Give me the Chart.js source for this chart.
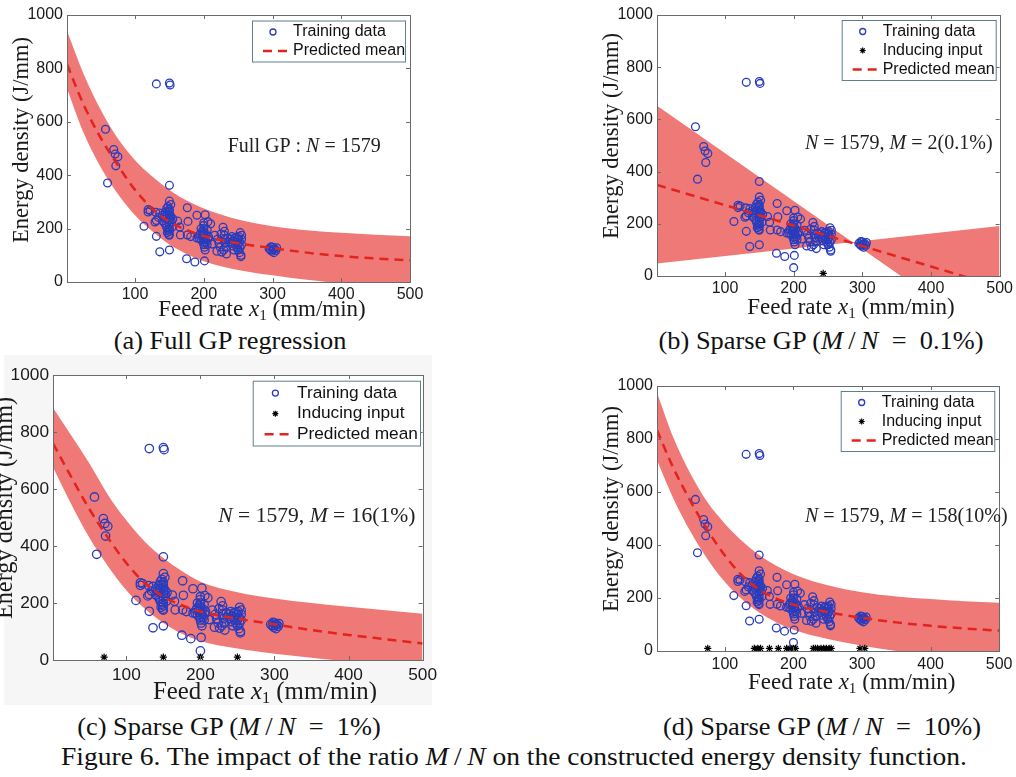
<!DOCTYPE html>
<html lang="en">
<head>
<meta charset="utf-8">
<title>Figure 6 - energy density, full vs sparse GP</title>
<script src="https://cdn.jsdelivr.net/npm/chart.js@4.4.0/dist/chart.umd.min.js"></script>
<style>
  body { margin: 0; background: #fff; width: 1016px; height: 777px; position: relative; overflow: hidden;
         font-family: 'Liberation Serif', 'Times New Roman', serif; color: #111; }
  canvas { position: absolute; }
  .cap { position: absolute; font-size: 25px; line-height: 28px; white-space: nowrap; transform: translateX(-50%) scaleX(1.055); }
  .panelbg { position: absolute; background: #f6f6f6; }
</style>
</head>
<body>
<div class="panelbg" style="left:4px;top:355px;width:428px;height:350px"></div>

<canvas id="cA" width="430" height="325" style="left:0;top:0"></canvas>
<canvas id="cB" width="426" height="325" style="left:590px;top:0"></canvas>
<canvas id="cC" width="442" height="343" style="left:0;top:360px"></canvas>
<canvas id="cD" width="426" height="330" style="left:590px;top:371px"></canvas>

<div class="cap" style="left:230px;top:327px">(a) Full GP regression</div>
<div class="cap" style="left:821px;top:327px">(b) Sparse GP (<i>M</i>&thinsp;/&thinsp;<i>N</i>&ensp;=&ensp;0.1%)</div>
<div class="cap" style="left:229px;top:713px">(c) Sparse GP (<i>M</i>&thinsp;/&thinsp;<i>N</i>&ensp;=&ensp;1%)</div>
<div class="cap" style="left:822px;top:713px">(d) Sparse GP (<i>M</i>&thinsp;/&thinsp;<i>N</i>&ensp;=&ensp;10%)</div>
<div class="cap" style="left:514px;top:743px;transform:translateX(-50%) scaleX(1.1)">Figure 6. The impact of the ratio <i>M</i>&thinsp;/&thinsp;<i>N</i> on the constructed energy density function.</div>

<script>
// ---- data ----
const xTicks = [100, 200, 300, 400, 500];
const yTicks = [0, 200, 400, 600, 800, 1000];

// x positions where the mean / band curves were read
const xGrid = [1, 25, 50, 75, 100, 125, 150, 175, 200, 250, 300, 350, 400, 450, 500];

// (a) full GP
const meanA  = [815, 665, 540, 437, 345, 275, 225, 195, 172, 145, 127, 110, 97, 88, 81];
const upperA = [940, 780, 645, 537, 456, 395, 345, 305, 275, 234, 209, 194, 184, 177, 171];
const lowerA = [725, 560, 430, 330, 250, 190, 140, 105, 78, 45, 25, 8, -5, -12, -18];

// (b) sparse GP, M = 2 -> straight lines
const xLineB = [1, 500];
const meanB  = [349, -42];
const upperB = [652, -264];
const lowerB = [48, 192];

// (c) sparse GP, M = 16
const meanC  = [760, 645, 530, 430, 340, 270, 222, 192, 170, 145, 125, 105, 88, 73, 58];
const upperC = [885, 790, 690, 580, 490, 415, 358, 312, 275, 238, 216, 200, 187, 175, 162];
const lowerC = [676, 550, 430, 330, 245, 180, 130, 92, 67, 40, 22, 8, -5, -15, -25];

// (d) sparse GP, M = 158
const meanD  = [833, 690, 565, 455, 360, 285, 232, 198, 175, 147, 125, 108, 95, 85, 77];
const upperD = [975, 805, 668, 560, 480, 415, 362, 322, 290, 248, 222, 206, 196, 188, 182];
const lowerD = [720, 575, 450, 345, 260, 195, 145, 108, 80, 45, 20, 0, -12, -20, -28];

// training data (feed rate, energy density)
const trainX = [57, 60, 69, 71, 75, 72, 131, 150, 151, 150, 150, 113, 131, 136, 150, 175, 187, 201,
  119, 119, 122, 130, 129, 131, 134, 136, 140, 142, 144, 140, 143, 145, 146, 148, 147, 149, 150, 150,
  150, 150, 150, 150, 150, 150, 150, 150, 148, 152, 148, 152, 153, 154, 155, 146, 144, 146,
  162, 165, 176, 177, 166, 176, 181, 190, 202, 206, 210,
  193, 195, 196, 198, 198, 199, 200, 200, 200, 200, 200, 200, 200, 201, 202, 202, 203, 204, 205, 205,
  207, 196, 194, 206, 212, 190,
  216, 220, 222, 224, 219, 226, 228, 230, 230, 230, 231, 232, 233, 229, 235, 236, 225,
  238, 240, 242, 243, 245, 246, 247, 248, 250, 250, 250, 251, 252, 252, 253, 253, 254, 254, 255, 255,
  255, 244, 241, 248,
  295, 297, 299, 300, 301, 302, 303, 305, 306, 298];
const trainY = [572, 371, 496, 479, 469, 435, 742, 745, 738, 362, 303, 209, 171, 113, 120, 87, 75, 79,
  271, 262, 268, 261, 225, 230, 242, 258, 250, 244, 236, 228, 221, 213, 205, 195, 185, 178, 175, 190,
  200, 212, 222, 232, 242, 252, 262, 272, 283, 290, 266, 246, 226, 206, 236, 250, 262, 275,
  228, 206, 278, 227, 176, 176, 170, 250, 252, 226, 218,
  165, 180, 158, 172, 190, 150, 140, 160, 175, 185, 200, 212, 222, 130, 120, 165, 180, 150, 195, 140,
  170, 200, 175, 160, 142, 165,
  175, 160, 145, 130, 115, 112, 205, 190, 175, 160, 145, 130, 105, 120, 165, 150, 180,
  160, 145, 135, 155, 165, 140, 150, 130, 160, 140, 120, 170, 150, 110, 185, 130, 100, 95, 160, 140,
  175, 120, 170, 168,
  125, 120, 115, 130, 122, 110, 125, 118, 128, 132];
// one low point that shows in (b)-(d) only
const extraX = [200];
const extraY = [32];

// inducing inputs
const inducingXB = [243];
const inducingYB = [10];
const inducingXC = [70, 150, 200, 250];
const inducingYC = [10, 10, 10, 10];
const inducingXD = [75, 143, 148, 152, 165, 178, 190, 195, 200, 203, 229, 232, 235, 240, 244, 248, 252, 255, 297, 304];
const inducingYD = [10, 10, 10, 10, 10, 10, 10, 10, 10, 10, 10, 10, 10, 10, 10, 10, 10, 10, 10, 10];

// ---- styling ----
const BLUE = 'rgb(40,60,190)';
const RED = 'rgb(226,35,30)';
const BAND = 'rgb(239,121,119)';
const FRAME = '#6b6b6b';

const pts = (xs, ys) => xs.map((x, i) => ({ x: x, y: ys[i] }));

// draw a line of text made of plain / italic / subscript pieces
function richText(ctx, segs, x, y, size, align) {
  const fontOf = s => (s.i ? 'italic ' : '') + (s.sub ? size * 0.66 : size) + 'px "Liberation Serif", serif';
  let w = 0;
  segs.forEach(s => { ctx.font = fontOf(s); w += ctx.measureText(s.t).width; });
  let cx = align === 'center' ? x - w / 2 : x;
  ctx.textBaseline = 'middle';
  ctx.textAlign = 'left';
  segs.forEach(s => {
    ctx.font = fontOf(s);
    ctx.fillText(s.t, cx, y + (s.sub ? size * 0.25 : 0));
    cx += ctx.measureText(s.t).width;
  });
}

function drawStar(ctx, x, y, r) {
  ctx.beginPath();
  for (let k = 0; k < 4; k++) {
    const a = k * Math.PI / 4;
    ctx.moveTo(x - r * Math.cos(a), y - r * Math.sin(a));
    ctx.lineTo(x + r * Math.cos(a), y + r * Math.sin(a));
  }
  ctx.stroke();
}

function makePanel(cfg) {
  const s = cfg.s;
  const datasets = [];
  datasets.push({
    label: 'Training data', mk: 'circle', data: pts(cfg.train[0], cfg.train[1]),
    showLine: false, pointStyle: 'circle', pointRadius: 3.9 * s, pointBorderWidth: 1.3,
    pointBorderColor: BLUE, pointBackgroundColor: 'rgba(0,0,0,0)', order: 2
  });
  if (cfg.inducing) {
    datasets.push({
      label: 'Inducing input', mk: 'star', data: pts(cfg.inducing[0], cfg.inducing[1]),
      showLine: false, pointStyle: 'star', pointRadius: 3.6, pointBorderWidth: 1.2,
      pointBorderColor: '#000', pointBackgroundColor: '#000', order: 0
    });
  }
  datasets.push({
    label: 'Predicted mean', mk: 'dash', data: pts(cfg.band[0], cfg.mean),
    showLine: true, borderColor: RED, borderWidth: 2.5, borderDash: [9, 6], pointRadius: 0,
    cubicInterpolationMode: 'monotone', fill: false, order: 1
  });
  datasets.push({
    label: 'upper', data: pts(cfg.band[0], cfg.band[1]), showLine: true, borderColor: 'rgba(0,0,0,0)',
    borderWidth: 1, pointRadius: 0, cubicInterpolationMode: 'monotone', fill: '+1', backgroundColor: BAND, order: 5
  });
  datasets.push({
    label: 'lower', data: pts(cfg.band[0], cfg.band[2]), showLine: true, borderColor: 'rgba(0,0,0,0)',
    borderWidth: 1, pointRadius: 0, cubicInterpolationMode: 'monotone', fill: false, order: 5
  });

  const decor = {
    id: 'decor',
    beforeDraw(chart) {
      const ca = chart.chartArea, ctx = chart.ctx;
      ctx.save();
      ctx.fillStyle = '#fff';
      ctx.fillRect(ca.left, ca.top, ca.right - ca.left, ca.bottom - ca.top);
      ctx.restore();
    },
    afterDraw(chart) {
      const ca = chart.chartArea, ctx = chart.ctx;
      const xs = chart.scales.x, ys = chart.scales.y;
      ctx.save();
      // box + inward ticks
      ctx.strokeStyle = FRAME;
      ctx.lineWidth = 1;
      ctx.strokeRect(Math.round(ca.left) + 0.5, Math.round(ca.top) + 0.5,
        Math.round(ca.right - ca.left), Math.round(ca.bottom - ca.top));
      ctx.beginPath();
      xTicks.forEach(v => {
        const px = Math.round(xs.getPixelForValue(v)) + 0.5;
        ctx.moveTo(px, ca.bottom); ctx.lineTo(px, ca.bottom - 4);
        ctx.moveTo(px, ca.top); ctx.lineTo(px, ca.top + 4);
      });
      yTicks.forEach(v => {
        const py = Math.round(ys.getPixelForValue(v)) + 0.5;
        ctx.moveTo(ca.left, py); ctx.lineTo(ca.left + 4, py);
        ctx.moveTo(ca.right, py); ctx.lineTo(ca.right - 4, py);
      });
      ctx.stroke();

      // legend
      const L = cfg.legend;
      const items = chart.data.datasets.filter(d => d.mk);
      const rowH = 19 * s, h = items.length * rowH + 3 * s;
      ctx.fillStyle = '#fff';
      ctx.fillRect(L.left, L.top, L.w, h);
      ctx.strokeStyle = '#5f7f8e';
      ctx.strokeRect(L.left + 0.5, L.top + 0.5, L.w, h);
      ctx.font = (16 * s) + 'px "Liberation Sans", Arial, sans-serif';
      ctx.textBaseline = 'middle';
      ctx.textAlign = 'left';
      items.forEach((d, i) => {
        const cy = L.top + 11.5 * s + i * rowH;
        const mx = L.left + 21 * s;
        if (d.mk === 'circle') {
          ctx.strokeStyle = BLUE; ctx.lineWidth = 1.3;
          ctx.beginPath(); ctx.arc(mx, cy, 3, 0, Math.PI * 2); ctx.stroke();
        } else if (d.mk === 'star') {
          ctx.strokeStyle = '#000'; ctx.lineWidth = 1.2;
          drawStar(ctx, mx, cy, 3);
        } else {
          ctx.strokeStyle = RED; ctx.lineWidth = 2.5; ctx.setLineDash([9, 6]);
          ctx.beginPath(); ctx.moveTo(L.left + 11 * s, cy); ctx.lineTo(L.left + 38 * s, cy); ctx.stroke();
          ctx.setLineDash([]);
        }
        ctx.fillStyle = '#111';
        ctx.fillText(d.label, L.left + 41 * s, cy);
      });

      // note inside the plot
      ctx.fillStyle = '#222';
      richText(ctx, cfg.note.segs, cfg.note.x, cfg.note.y, 20 * s, 'left');

      // axis titles
      ctx.fillStyle = '#1a1a1a';
      richText(ctx, [{ t: 'Feed rate ' }, { t: 'x', i: true }, { t: '1', sub: true }, { t: ' (mm/min)' }],
        cfg.xTitle[0], cfg.xTitle[1], 23 * s, 'center');
      ctx.translate(cfg.yTitle[0], cfg.yTitle[1]);
      ctx.rotate(-Math.PI / 2);
      richText(ctx, [{ t: 'Energy density (J/mm)' }], 0, 0, 22.5 * s, 'center');
      ctx.restore();
    }
  };

  return new Chart(document.getElementById(cfg.id), {
    type: 'scatter',
    data: { datasets: datasets },
    options: {
      responsive: false,
      animation: false,
      layout: { padding: { left: 0, top: cfg.padT, right: cfg.padR, bottom: 0 } },
      plugins: { legend: { display: false }, tooltip: { enabled: false } },
      scales: {
        x: {
          type: 'linear', min: 1, max: 500,
          afterBuildTicks: a => { a.ticks = xTicks.map(v => ({ value: v })); },
          afterFit: sc => { sc.height = cfg.axB; },
          grid: { display: false, drawTicks: false }, border: { display: false },
          ticks: { font: { family: 'Liberation Sans', size: 16 * s }, color: '#1a1a1a',
                   padding: cfg.xPad, maxRotation: 0, autoSkip: false, callback: v => String(v) }
        },
        y: {
          type: 'linear', min: 0, max: 1000,
          afterBuildTicks: a => { a.ticks = yTicks.map(v => ({ value: v })); },
          afterFit: sc => { sc.width = cfg.axL; },
          grid: { display: false, drawTicks: false }, border: { display: false },
          ticks: { font: { family: 'Liberation Sans', size: 16 * s }, color: '#1a1a1a', padding: 4,
                   callback: v => String(v) }
        }
      }
    },
    plugins: [decor]
  });
}

const N = [{ t: 'N', i: true }];
const M = [{ t: 'M', i: true }];

makePanel({
  id: 'cA', s: 1, axL: 67, axB: 43, padT: 15, padR: 20, xPad: 3,
  train: [trainX, trainY], inducing: null,
  band: [xGrid, upperA, lowerA], mean: meanA,
  legend: { left: 252, top: 20.5, w: 153 },
  note: { x: 227.7, y: 146.7, segs: [{ t: 'Full GP : ' }].concat(N, [{ t: ' = 1579' }]) },
  xTitle: [262, 310], yTitle: [22, 140]
});
makePanel({
  id: 'cB', s: 1, axL: 67, axB: 49, padT: 15, padR: 15, xPad: 3,
  train: [trainX.concat(extraX), trainY.concat(extraY)], inducing: [inducingXB, inducingYB],
  band: [xLineB, upperB, lowerB], mean: meanB,
  legend: { left: 251.7, top: 20, w: 154 },
  note: { x: 215, y: 144, segs: N.concat([{ t: ' = 1579, ' }], M, [{ t: ' = 2(0.1%)' }]) },
  xTitle: [261, 308], yTitle: [21.7, 136]
});
makePanel({
  id: 'cC', s: 1.08, axL: 53, axB: 43, padT: 15, padR: 16, xPad: 5,
  train: [trainX.concat(extraX), trainY.concat(extraY)], inducing: [inducingXC, inducingYC],
  band: [xGrid, upperC, lowerC], mean: meanC,
  legend: { left: 252.7, top: 20.7, w: 167.3 },
  note: { x: 218.3, y: 156, segs: N.concat([{ t: ' = 1579, ' }], M, [{ t: ' = 16(1%)' }]) },
  xTitle: [265, 332], yTitle: [6, 148]
});
makePanel({
  id: 'cD', s: 1, axL: 67, axB: 50, padT: 15, padR: 16, xPad: 3.5,
  train: [trainX.concat(extraX), trainY.concat(extraY)], inducing: [inducingXD, inducingYD],
  band: [xGrid, upperD, lowerD], mean: meanD,
  legend: { left: 250.7, top: 20, w: 153.6 },
  note: { x: 215, y: 145.7, segs: N.concat([{ t: ' = 1579, ' }], M, [{ t: ' = 158(10%)' }]) },
  xTitle: [261.7, 312], yTitle: [21.7, 138]
});
</script>
</body>
</html>
